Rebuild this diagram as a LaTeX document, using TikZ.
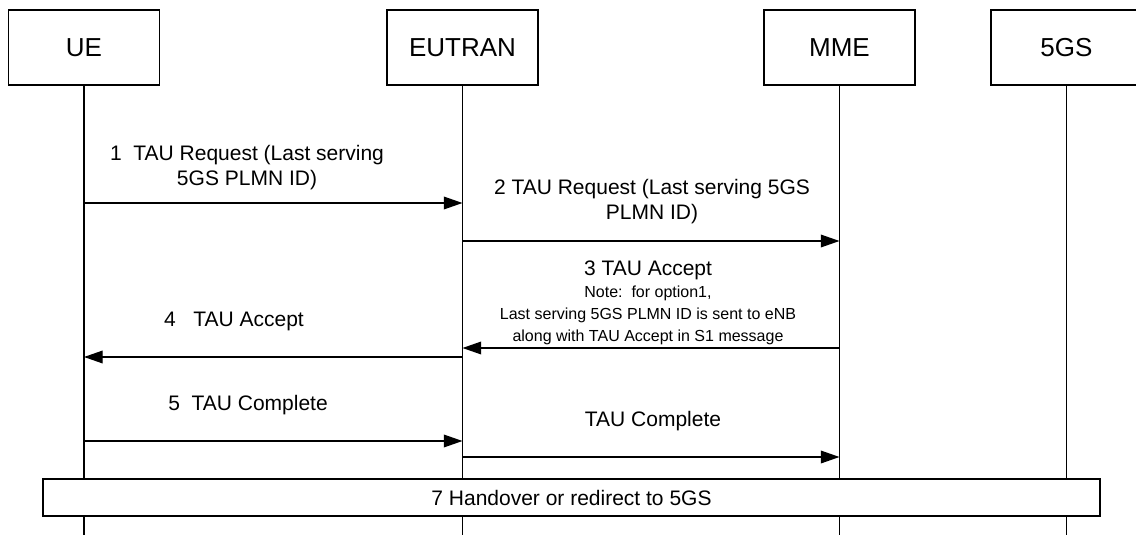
\documentclass[tikz,border=0pt]{standalone}
\usepackage{fontspec}
\setmainfont{Liberation Sans}
\usetikzlibrary{arrows.meta,positioning,calc}
\tikzstyle{entity}=[draw, line width=1pt, minimum width=113.25pt, minimum height=56.25pt, font=\fontsize{19.5}{23}\selectfont]
\tikzstyle{bar}=[draw, fill=white, line width=1pt, minimum width=792.75pt, minimum height=27.75pt, font=\fontsize{15.75}{18}\selectfont]
\tikzstyle{life}=[line width=0.8pt]
\tikzstyle{msg}=[line width=1pt,-{Triangle[length=14pt,width=9.5pt]}]
\tikzstyle{lbl}=[align=center, inner sep=0pt, font=\fontsize{15.75}{18.5}\selectfont]
\tikzstyle{note}=[align=center, inner sep=0pt, font=\fontsize{12}{16.5}\selectfont]

\begin{document}
\begin{tikzpicture}[x=0.75pt,y=-0.75pt]
    \useasboundingbox (0,0) rectangle (1136,535);
    % entities
    \node [entity] (ue) at (84,47.5) {UE};
    \node [entity] (enb) at (462.5,47.5) {EUTRAN};
    \node [entity] (mme) at (839.5,47.5) {MME};
    \node [entity] (fgs) at (1066.5,47.5) {5GS};
    \coordinate (bottom) at (0,535);
    \foreach \n in {ue,enb,mme,fgs}
        \draw [life] (\n.south) -- (\n |- bottom);
    % message heights
    \coordinate (y1) at (0,203);
    \coordinate (y2) at (0,241);
    \coordinate (y3) at (0,348);
    \coordinate (y4) at (0,357);
    \coordinate (y5) at (0,441);
    \coordinate (y6) at (0,457);
    % messages
    \draw [msg] (ue |- y1) -- (enb |- y1);
    \node [lbl] (l1) at (247,167.5) {1\ \ TAU Request (Last serving\\5GS PLMN ID)};
    \draw [msg] (enb |- y2) -- (mme |- y2);
    \node [lbl] (l2) at (652,201.5) {2 TAU Request (Last serving 5GS\\PLMN ID)};
    \draw [msg] (mme |- y3) -- (enb |- y3);
    \node [lbl] (l3) at (648,270) {3 TAU Accept};
    \node [note] (n3) at (648,315) {Note:\ \ for option1,\\Last serving 5GS PLMN ID is sent to eNB\\along with TAU Accept in S1 message};
    \draw [msg] (enb |- y4) -- (ue |- y4);
    \node [lbl] (l4) at (234,321) {4\ \ \ TAU Accept};
    \draw [msg] (ue |- y5) -- (enb |- y5);
    \node [lbl] (l5) at (248,405) {5\ \ TAU Complete};
    \draw [msg] (enb |- y6) -- (mme |- y6);
    \node [lbl] (l6) at (653,421) {TAU Complete};
    % handover
    \node [bar] (ho) at (571.5,497.5) {7 Handover or redirect to 5GS};
\end{tikzpicture}
\end{document}
